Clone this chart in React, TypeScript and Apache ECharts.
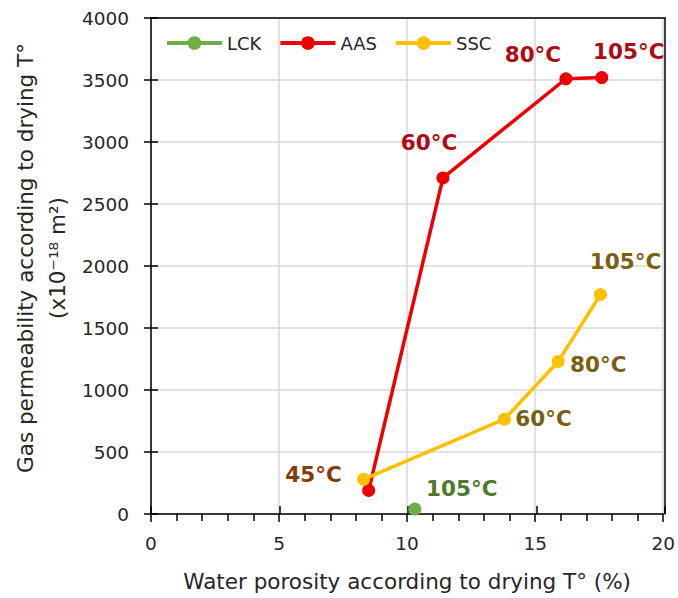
import React, { useEffect, useRef } from "react";
import * as echarts from "echarts";

// ---- Data ----
const lckTemps = ["105°C"];
const lckPorosity = [10.3];
const lckPermeability = [40];

const aasTemps = ["45°C", "60°C", "80°C", "105°C"];
const aasPorosity = [8.5, 11.4, 16.2, 17.6];
const aasPermeability = [190, 2710, 3510, 3520];

const sscTemps = ["45°C", "60°C", "80°C", "105°C"];
const sscPorosity = [8.3, 13.8, 15.9, 17.55];
const sscPermeability = [280, 765, 1230, 1770];

const xTickValues = [0, 5, 10, 15, 20];
const yTickValues = [0, 500, 1000, 1500, 2000, 2500, 3000, 3500, 4000];

const FONT = "DejaVu Sans";

export default function App() {
  const ref = useRef<HTMLDivElement>(null);

  useEffect(() => {
    if (!ref.current) return;
    const chart = echarts.init(ref.current, undefined, { renderer: "svg" });

    // label placement (styling only)
    const lckLabel = [{ offset: [47, -21], color: "#4E7A2C" }];
    const aasLabel = [
      { show: false },
      { offset: [-14, -35], color: "#B00A14" },
      { offset: [-33, -24], color: "#B00A14" },
      { offset: [27, -26], color: "#B00A14" },
    ];
    const sscLabel = [
      { offset: [-50, -5], color: "#843C0C" },
      { offset: [39, -1], color: "#7A5F10" },
      { offset: [40, 3], color: "#7A5F10" },
      { offset: [25, -33], color: "#7A5F10" },
    ];

    const build = (xs: number[], ys: number[], temps: string[], lab: any[]) =>
      xs.map((x, i) => ({
        value: [x, ys[i]],
        label: {
          show: lab[i].show !== false,
          formatter: temps[i],
          position: "inside",
          offset: lab[i].offset || [0, 0],
          color: lab[i].color,
          fontFamily: FONT,
          fontWeight: "bold",
          fontSize: 21.5,
        },
      }));

    const xMin = xTickValues[0];
    const xMax = xTickValues[xTickValues.length - 1];
    const yMin = yTickValues[0];
    const yMax = yTickValues[yTickValues.length - 1];
    const xInt = xTickValues[1] - xTickValues[0];
    const yInt = yTickValues[1] - yTickValues[0];

    const gridBox = { left: 151, right: 13, top: 18, bottom: 84 };

    const baseX = { type: "value", min: xMin, max: xMax, interval: xInt };
    const baseY = { type: "value", min: yMin, max: yMax, interval: yInt };
    const plain = (v: number) => String(v);

    const option: any = {
      animation: false,
      backgroundColor: "#ffffff",
      textStyle: { fontFamily: FONT },
      grid: [
        { ...gridBox, containLabel: false },
        { ...gridBox, containLabel: false },
      ],
      legend: {
        left: 165,
        top: 34,
        padding: 0,
        itemWidth: 55,
        itemHeight: 17,
        itemGap: 17,
        lineStyle: { width: 4 },
        textStyle: { fontFamily: FONT, fontSize: 18, color: "#262626" },
        data: ["LCK", "AAS", "SSC"],
      },
      xAxis: [
        {
          ...baseX,
          gridIndex: 0,
          position: "bottom",
          axisLine: { show: true, onZero: false, lineStyle: { color: "#000", width: 1.5 } },
          axisTick: { show: true, inside: false, length: 8, lineStyle: { color: "#000", width: 1.5 } },
          minorTick: { show: true, splitNumber: 5, length: 7, lineStyle: { color: "#000", width: 1.5 } },
          axisLabel: { fontFamily: FONT, fontSize: 18.5, color: "#262626", margin: 20, formatter: plain },
          splitLine: { show: true, lineStyle: { color: "#d9d9d9", width: 1.5 } },
          name: "Water porosity according to drying T° (%)",
          nameLocation: "middle",
          nameGap: 56,
          nameTextStyle: { fontFamily: FONT, fontSize: 21.5, color: "#262626" },
        },
        {
          ...baseX,
          gridIndex: 1,
          position: "bottom",
          axisLine: { show: false, onZero: false },
          axisTick: { show: true, inside: true, length: 8, lineStyle: { color: "#000", width: 1.5 } },
          axisLabel: { show: false },
          splitLine: { show: false },
        },
        {
          ...baseX,
          gridIndex: 1,
          position: "top",
          z: 5,
          axisLine: { show: true, onZero: false, lineStyle: { color: "#000", width: 1.5 } },
          axisTick: { show: false },
          axisLabel: { show: false },
          splitLine: { show: false },
        },
      ],
      yAxis: [
        {
          ...baseY,
          gridIndex: 0,
          position: "left",
          axisLine: { show: true, onZero: false, lineStyle: { color: "#000", width: 1.5 } },
          axisTick: { show: true, inside: false, length: 7, lineStyle: { color: "#000", width: 1.5 } },
          axisLabel: { fontFamily: FONT, fontSize: 18.5, color: "#262626", margin: 22, formatter: plain },
          splitLine: { show: true, lineStyle: { color: "#d9d9d9", width: 1.5 } },
        },
        {
          ...baseY,
          gridIndex: 1,
          position: "left",
          axisLine: { show: false, onZero: false },
          axisTick: { show: true, inside: true, length: 7, lineStyle: { color: "#000", width: 1.5 } },
          axisLabel: { show: false },
          splitLine: { show: false },
        },
        {
          ...baseY,
          gridIndex: 1,
          position: "right",
          z: 5,
          axisLine: { show: true, onZero: false, lineStyle: { color: "#000", width: 1.5 } },
          axisTick: { show: false },
          axisLabel: { show: false },
          splitLine: { show: false },
        },
      ],
      graphic: [
        {
          type: "text",
          x: 41,
          y: 258,
          rotation: Math.PI / 2,
          style: {
            text: "Gas permeability according to drying T°\n(x10⁻¹⁸ m²)",
            fontFamily: FONT,
            fontSize: 21.5,
            lineHeight: 32,
            fill: "#262626",
            align: "center",
            verticalAlign: "middle",
          },
        },
      ],
      series: [
        {
          name: "LCK",
          type: "line",
          xAxisIndex: 0,
          yAxisIndex: 0,
          symbol: "circle",
          symbolSize: 13,
          itemStyle: { color: "#70AD47" },
          lineStyle: { color: "#70AD47", width: 3.5 },
          data: build(lckPorosity, lckPermeability, lckTemps, lckLabel),
          z: 3,
        },
        {
          name: "AAS",
          type: "line",
          xAxisIndex: 0,
          yAxisIndex: 0,
          symbol: "circle",
          symbolSize: 13,
          itemStyle: { color: "#EE0000" },
          lineStyle: { color: "#EE0000", width: 3.5 },
          data: build(aasPorosity, aasPermeability, aasTemps, aasLabel),
          z: 3,
        },
        {
          name: "SSC",
          type: "line",
          xAxisIndex: 0,
          yAxisIndex: 0,
          symbol: "circle",
          symbolSize: 13,
          itemStyle: { color: "#FFC000" },
          lineStyle: { color: "#FFC000", width: 3.5 },
          data: build(sscPorosity, sscPermeability, sscTemps, sscLabel),
          z: 4,
        },
      ],
    };

    chart.setOption(option);
    return () => chart.dispose();
  }, []);

  return (
    <div
      ref={ref}
      style={{ position: "fixed", left: 0, top: 0, width: 678, height: 598, background: "#fff" }}
    />
  );
}
